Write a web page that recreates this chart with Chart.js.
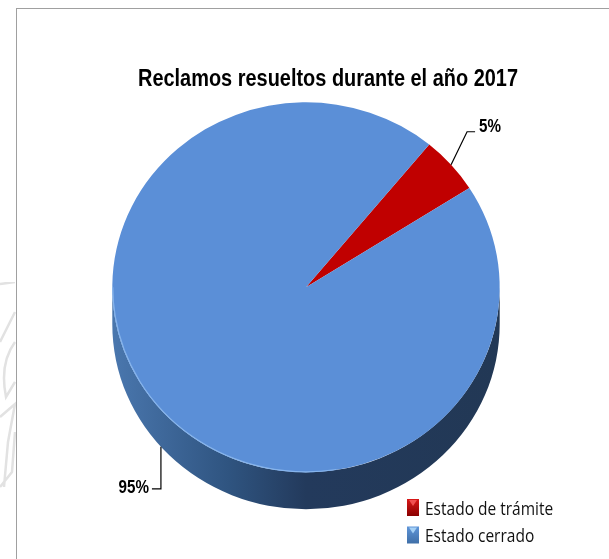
<!DOCTYPE html>
<html>
<head>
<meta charset="utf-8">
<script src="https://cdn.jsdelivr.net/npm/chart.js@4"></script>
<style>
  html, body { margin: 0; padding: 0; background: #fff; }
  #frame { position: relative; width: 609px; height: 559px; overflow: hidden; }
  #frame:before { content: ''; position: absolute; left: 16px; top: 8px; right: -5px; bottom: -5px; border: 1.5px solid #a0a0a0; }
  #sketch { position: absolute; left: 0; top: 282px; filter: blur(0.7px); }
  canvas { position: absolute; left: 0; top: 0; }
</style>
</head>
<body>
<div id="frame">
  <!-- faint watermark behind the frame on the left edge -->
  <svg id="sketch" width="16" height="220" fill="none" stroke="#e2e2e2" stroke-width="2.5">
    <path d="M0 2 L15 0 M15 30 L0 60 M15 60 C4 75 2 95 6 115 L15 100 M0 135 L15 122 L8 160 L4 205 M15 150 L12 190 L0 205"/>
  </svg>
  <canvas id="chart" width="609" height="559"></canvas>
</div>
<script>
const categories = ['Estado de trámite', 'Estado cerrado'];
const values = [5, 95];
const sliceColors = ['#c00000', '#5b8fd7'];
const chartTitle = 'Reclamos resueltos durante el año 2017';

// Pie is tilted, so the top face is a squashed circle with a thick rim below it
const SQUASH = 0.955;
const DEPTH = 37;
// Reference text is a narrow face, no such font here so the sans is squeezed
const LABEL_SQUEEZE = 0.8;
const LEGEND_SQUEEZE = 0.886;

// Title box is narrower than the text wants, fillText's maxWidth condenses it
const titleBox = {
  id: 'titleBox',
  afterLayout(chart) {
    chart.titleBlock.left = 138;
    chart.titleBlock.right = 518;
  }
};

const tiltedPie = {
  id: 'tiltedPie',
  beforeDatasetsDraw(chart) {
    const arc = chart.getDatasetMeta(0).data[0];
    const ctx = chart.ctx;
    const r = arc.outerRadius;
    const grad = ctx.createLinearGradient(arc.x - r, 0, arc.x + r, 0);
    grad.addColorStop(0, '#4a77ae');
    grad.addColorStop(0.3, '#2f5480');
    grad.addColorStop(0.5, '#233a5c');
    grad.addColorStop(1, '#223855');
    ctx.save();
    ctx.fillStyle = grad;
    ctx.beginPath();
    ctx.ellipse(arc.x, arc.y + DEPTH, r, r * SQUASH, 0, 0, Math.PI);
    ctx.lineTo(arc.x - r, arc.y);
    ctx.ellipse(arc.x, arc.y, r, r * SQUASH, 0, Math.PI, 0, true);
    ctx.closePath();
    ctx.fill();
    ctx.restore();
    // squash the slices drawn next
    ctx.save();
    ctx.translate(0, arc.y);
    ctx.scale(1, SQUASH);
    ctx.translate(0, -arc.y);
  },
  afterDatasetsDraw(chart) {
    const ctx = chart.ctx;
    ctx.restore();
    // thin light edge where the face meets the rim
    const arc = chart.getDatasetMeta(0).data[0];
    const r = arc.outerRadius;
    ctx.save();
    ctx.strokeStyle = '#86b4ec';
    ctx.lineWidth = 1.2;
    ctx.beginPath();
    ctx.ellipse(arc.x, arc.y, r - 0.5, r * SQUASH - 0.5, 0, Math.PI * 0.45, Math.PI);
    ctx.stroke();
    ctx.restore();
  }
};

// Percent labels with elbow leader lines, anchored on the slice angle
const leaderLabels = {
  id: 'leaderLabels',
  afterDraw(chart) {
    const ctx = chart.ctx;
    const arcs = chart.getDatasetMeta(0).data;
    const total = values.reduce((a, b) => a + b, 0);
    const squeezedText = (text, x, y) => {
      ctx.save();
      ctx.translate(x, y);
      ctx.scale(LABEL_SQUEEZE, 1);
      ctx.fillText(text, 0, 0);
      ctx.restore();
    };
    ctx.save();
    ctx.strokeStyle = '#000';
    ctx.lineWidth = 1.2;
    ctx.fillStyle = '#000';
    ctx.font = 'bold 19px "Liberation Sans"';
    ctx.textBaseline = 'middle';

    // 5% slice, leader goes up and right
    let mid = (arcs[0].startAngle + arcs[0].endAngle) / 2;
    let ax = arcs[0].x + Math.cos(mid) * arcs[0].outerRadius;
    let ay = arcs[0].y + Math.sin(mid) * arcs[0].outerRadius * SQUASH;
    ctx.beginPath();
    ctx.moveTo(ax, ay);
    ctx.lineTo(ax + 16, ay - 33);
    ctx.lineTo(ax + 24, ay - 33);
    ctx.stroke();
    ctx.textAlign = 'left';
    squeezedText(Math.round(values[0] / total * 100) + '%', ax + 28, ay - 38);

    // 95% slice, leader starts on the rim at the lower left
    mid = (arcs[1].startAngle + arcs[1].endAngle) / 2;
    ax = arcs[1].x + Math.cos(mid) * arcs[1].outerRadius;
    ay = arcs[1].y + Math.sin(mid) * arcs[1].outerRadius * SQUASH + DEPTH;
    ctx.beginPath();
    ctx.moveTo(ax, ay);
    ctx.lineTo(ax, ay + 42);
    ctx.lineTo(ax - 9, ay + 42);
    ctx.stroke();
    ctx.textAlign = 'right';
    squeezedText(Math.round(values[1] / total * 100) + '%', ax - 12, ay + 41);
    ctx.restore();
  }
};

// Stacked legend in the lower right corner, with little shaded squares
const cornerLegend = {
  id: 'cornerLegend',
  afterDraw(chart) {
    const ctx = chart.ctx;
    const darker = ['#8a0000', '#3f6fa8'];
    const lighter = ['#d81818', '#5f95d8'];
    const glint = ['#f05050', '#a5d0f5'];
    ctx.save();
    ctx.font = '17.5px "Open Sans"';
    ctx.textBaseline = 'middle';
    ctx.textAlign = 'left';
    categories.forEach((name, i) => {
      const y = 499 + i * 27.5;
      const grad = ctx.createLinearGradient(0, y, 0, y + 17);
      grad.addColorStop(0, lighter[i]);
      grad.addColorStop(1, darker[i]);
      ctx.fillStyle = grad;
      ctx.fillRect(407, y, 12, 17);
      ctx.fillStyle = glint[i];
      ctx.beginPath();
      ctx.moveTo(409, y + 1);
      ctx.lineTo(417, y + 1);
      ctx.lineTo(413, y + 7);
      ctx.closePath();
      ctx.fill();
      ctx.fillStyle = '#111';
      ctx.save();
      ctx.translate(425, y + 11);
      ctx.scale(LEGEND_SQUEEZE, 1);
      ctx.fillText(name, 0, 0);
      ctx.restore();
    });
    ctx.restore();
  }
};

new Chart(document.getElementById('chart'), {
  type: 'pie',
  data: {
    labels: categories,
    datasets: [{
      data: values,
      backgroundColor: sliceColors,
      borderWidth: 0
    }]
  },
  options: {
    responsive: false,
    animation: false,
    rotation: 39.5,
    layout: { padding: { left: 112, right: 109, top: 66, bottom: 78 } },
    plugins: {
      legend: { display: false },
      tooltip: { enabled: false },
      title: {
        display: true,
        text: chartTitle,
        color: '#000',
        font: { family: '"Liberation Sans"', size: 23, weight: 'bold' },
        padding: { top: 0, bottom: 0 }
      }
    }
  },
  plugins: [titleBox, tiltedPie, leaderLabels, cornerLegend]
});
</script>
</body>
</html>
